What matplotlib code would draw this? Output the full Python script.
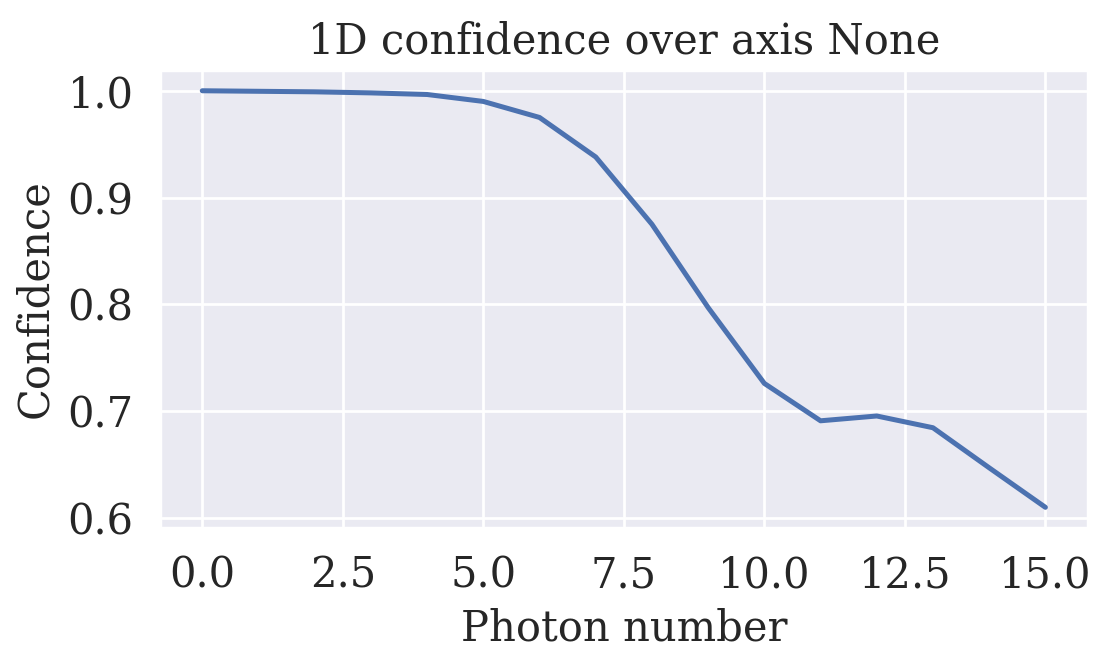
import matplotlib
matplotlib.use("Agg")
import matplotlib.pyplot as plt
import seaborn as sns

sns.set_theme(style="darkgrid", font="serif")
plt.rcParams["font.family"] = "serif"

photon_number = [0, 1, 2, 3, 4, 5, 6, 7, 8, 9, 10, 11, 12, 13, 14, 15]
confidence = [1.000, 0.9995, 0.999, 0.998, 0.9965, 0.990, 0.975, 0.938,
              0.875, 0.797, 0.726, 0.691, 0.6955, 0.6845, 0.647, 0.610]

fig, ax = plt.subplots(figsize=(5.56, 3.33), dpi=200)
ax.plot(photon_number, confidence, lw=1.8)
ax.set_title("1D confidence over axis None", fontsize=15)
ax.set_xlabel("Photon number", fontsize=15)
ax.set_ylabel("Confidence", fontsize=15)
ax.tick_params(labelsize=15)
fig.subplots_adjust(left=0.144, right=0.978, top=0.895, bottom=0.207)
fig.savefig("out.png", dpi=200)
